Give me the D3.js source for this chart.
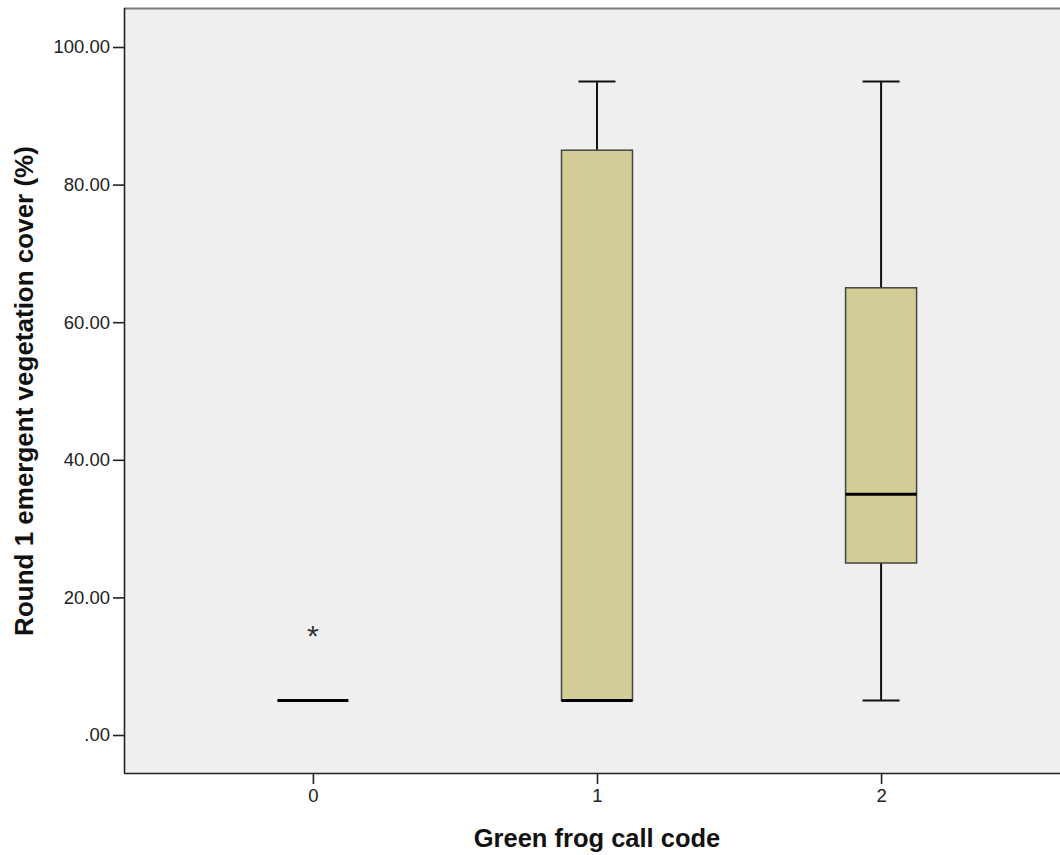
<!DOCTYPE html>
<html>
<head>
<meta charset="utf-8">
<script src="https://cdn.jsdelivr.net/npm/d3@7"></script>
<style>
  body { margin: 0; background: #fff; }
  svg { display: block; font-family: "Liberation Sans", Arial, sans-serif; }
</style>
</head>
<body>
<div id="chart"></div>
<script>
// Categories and box statistics
const categories = ["0", "1", "2"];
const whiskerLow = [5, 5, 5];
const q1 = [5, 5, 25];
const medians = [5, 5, 35];
const q3 = [5, 85, 65];
const whiskerHigh = [5, 95, 95];
// Extreme outliers, marked with a star
const extremes = [{ cat: "0", value: 15 }];
const yTicks = [0, 20, 40, 60, 80, 100];

const width = 1060, height = 855;
const plot = { left: 124, top: 8, right: 1070, bottom: 773 };

const svg = d3.select("#chart").append("svg")
  .attr("width", width)
  .attr("height", height);

const x = d3.scalePoint()
  .domain(categories)
  .range([plot.left, plot.right])
  .padding(0.665);

const y = d3.scaleLinear()
  .domain([0, 100])
  .range([735, 47]);

// Plot background
svg.append("rect")
  .attr("x", plot.left)
  .attr("y", plot.top)
  .attr("width", plot.right - plot.left)
  .attr("height", plot.bottom - plot.top)
  .attr("fill", "#efefef");

// Top border (grey)
svg.append("line")
  .attr("x1", plot.left).attr("x2", plot.right)
  .attr("y1", plot.top + 0.5).attr("y2", plot.top + 0.5)
  .attr("stroke", "#7a7a7a").attr("stroke-width", 2);

// Y axis
const yAxis = svg.append("g")
  .attr("transform", `translate(${plot.left},0)`)
  .call(d3.axisLeft(y)
    .tickValues(yTicks)
    .tickSize(11)
    .tickPadding(3)
    .tickFormat(d => d3.format(".2f")(d).replace(/^0/, "")));

yAxis.select(".domain")
  .attr("d", `M0.5,${plot.top}V${plot.bottom}`)
  .attr("stroke", "#222").attr("stroke-width", 1.6);
yAxis.selectAll(".tick line").attr("stroke", "#222").attr("stroke-width", 1.6);
yAxis.selectAll(".tick text").attr("fill", "#222").style("font-size", "18.5px");

// X axis
const xAxis = svg.append("g")
  .attr("transform", `translate(0,${plot.bottom})`)
  .call(d3.axisBottom(x).tickSize(11).tickPadding(5));

xAxis.select(".domain")
  .attr("d", `M${plot.left},0.5H${plot.right}`)
  .attr("stroke", "#222").attr("stroke-width", 1.6);
xAxis.selectAll(".tick line").attr("stroke", "#222").attr("stroke-width", 1.6);
xAxis.selectAll(".tick text").attr("fill", "#222").style("font-size", "18.5px");

// Boxes
const boxW = 71, capW = 37;
const boxes = svg.append("g");

categories.forEach((c, i) => {
  const cx = x(c);
  const g = boxes.append("g");

  // whiskers
  if (whiskerHigh[i] > q3[i]) {
    g.append("line")
      .attr("x1", cx).attr("x2", cx)
      .attr("y1", y(q3[i])).attr("y2", y(whiskerHigh[i]))
      .attr("stroke", "#111").attr("stroke-width", 2);
    g.append("line")
      .attr("x1", cx - capW / 2).attr("x2", cx + capW / 2)
      .attr("y1", y(whiskerHigh[i])).attr("y2", y(whiskerHigh[i]))
      .attr("stroke", "#111").attr("stroke-width", 2);
  }
  if (whiskerLow[i] < q1[i]) {
    g.append("line")
      .attr("x1", cx).attr("x2", cx)
      .attr("y1", y(q1[i])).attr("y2", y(whiskerLow[i]))
      .attr("stroke", "#111").attr("stroke-width", 2);
    g.append("line")
      .attr("x1", cx - capW / 2).attr("x2", cx + capW / 2)
      .attr("y1", y(whiskerLow[i])).attr("y2", y(whiskerLow[i]))
      .attr("stroke", "#111").attr("stroke-width", 2);
  }

  // box
  if (q3[i] > q1[i]) {
    g.append("rect")
      .attr("x", cx - boxW / 2)
      .attr("y", y(q3[i]))
      .attr("width", boxW)
      .attr("height", y(q1[i]) - y(q3[i]))
      .attr("fill", "#d3ce97")
      .attr("stroke", "#444")
      .attr("stroke-width", 1.5);
  }

  // median
  g.append("line")
    .attr("x1", cx - boxW / 2).attr("x2", cx + boxW / 2)
    .attr("y1", y(medians[i])).attr("y2", y(medians[i]))
    .attr("stroke", "#000").attr("stroke-width", 3);
});

// Extreme values
svg.append("g").selectAll("text")
  .data(extremes)
  .join("text")
  .attr("x", d => x(d.cat))
  .attr("y", d => y(d.value) + 14)
  .attr("text-anchor", "middle")
  .attr("fill", "#333")
  .style("font-size", "30px")
  .text("*");

// Axis titles
svg.append("text")
  .attr("x", x("1"))
  .attr("y", 847)
  .attr("text-anchor", "middle")
  .style("font-size", "25.5px")
  .style("font-weight", "bold")
  .attr("fill", "#111")
  .text("Green frog call code");

svg.append("text")
  .attr("transform", `translate(33,391) rotate(-90)`)
  .attr("text-anchor", "middle")
  .style("font-size", "26px")
  .style("font-weight", "bold")
  .attr("fill", "#111")
  .text("Round 1 emergent vegetation cover (%)");
</script>
</body>
</html>
